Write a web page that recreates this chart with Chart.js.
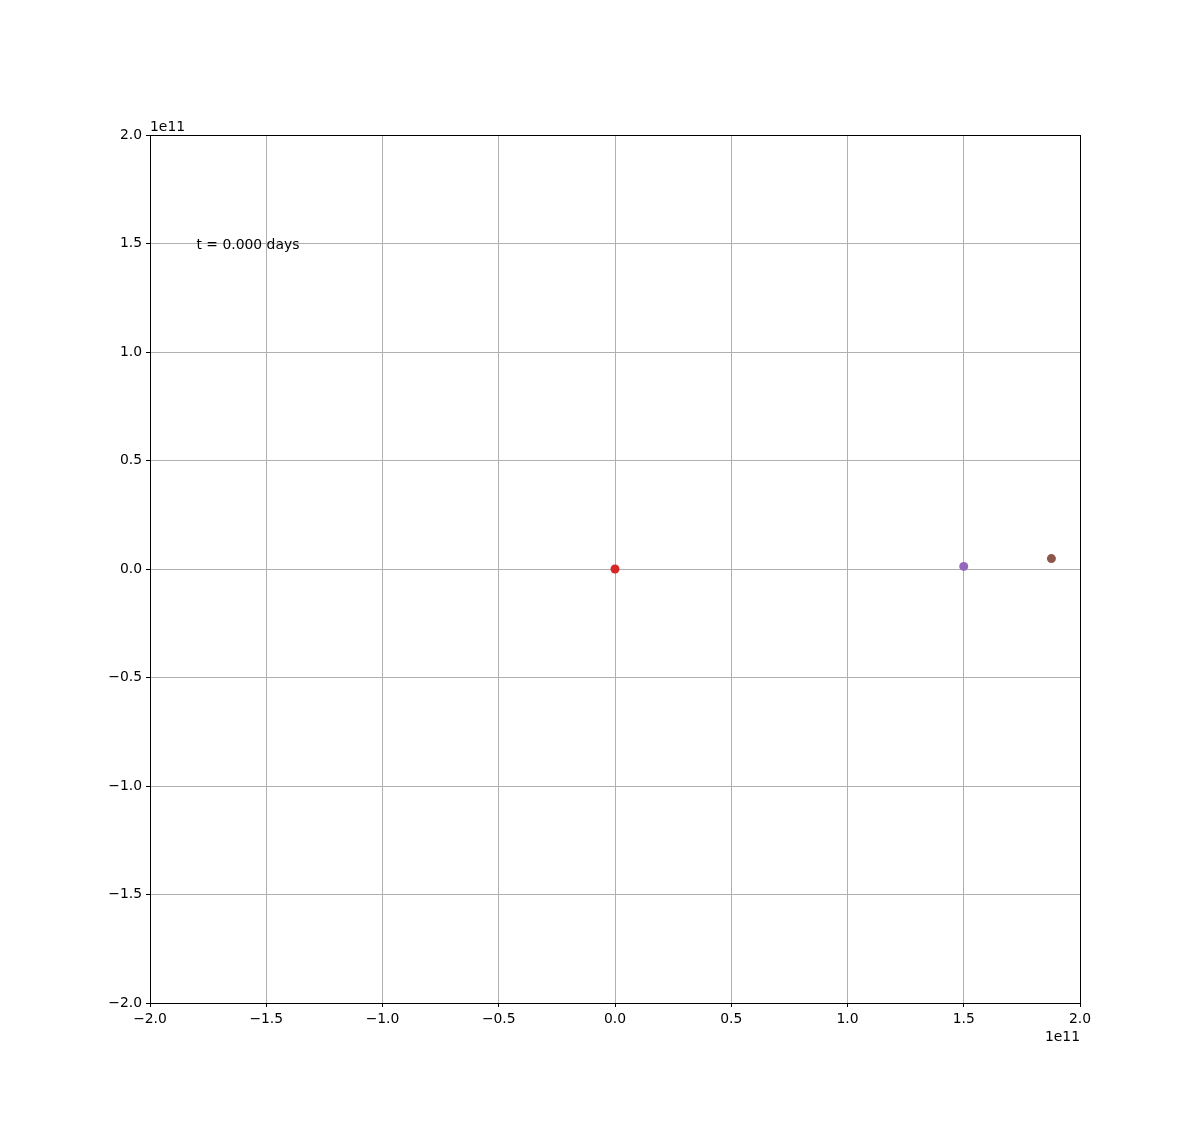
<!DOCTYPE html>
<html>
<head>
<meta charset="utf-8">
<script src="https://cdn.jsdelivr.net/npm/chart.js@4"></script>
<style>
  html, body { margin: 0; padding: 0; background: #fff; }
  #wrap { width: 1200px; height: 1126px; }
</style>
</head>
<body>
<div id="wrap"><canvas id="orbitChart" width="1200" height="1126"></canvas></div>
<script>
document.addEventListener("DOMContentLoaded", function () {

    // bodies at t = 0 (metres)
    const bodyNames = ["Sun", "Earth", "Mars"];
    const bodyX = [0, 1.50e11, 1.877e11];
    const bodyY = [0, 0.012e11, 0.048e11];
    const bodyColors = ["#d62728", "#9467bd", "#8c564b"];

    const axisTicks = [-2e11, -1.5e11, -1e11, -0.5e11, 0, 0.5e11, 1e11, 1.5e11, 2e11];
    const timeLabel = "t = 0.000 days";
    const labelPos = [-1.8e11, 1.5e11];

    const font = { family: "'DejaVu Sans'", size: 13.9 };

    function fmtTick(v) {
        const s = (v / 1e11).toFixed(1);
        return s.replace("-", "\u2212");
    }

    const datasets = bodyNames.map((name, i) => ({
        label: name,
        data: [{ x: bodyX[i], y: bodyY[i] }],
        backgroundColor: bodyColors[i],
        borderColor: bodyColors[i],
        pointRadius: 4.5,
        pointHoverRadius: 4.5,
        borderWidth: 0
    }));

    // frame, offset text and time label
    const extras = {
        id: "extras",
        afterDraw(chart) {
            const ctx = chart.ctx;
            const a = chart.chartArea;
            ctx.save();
            ctx.strokeStyle = "#000";
            ctx.lineWidth = 1;
            ctx.strokeRect(Math.round(a.left) + 0.5, Math.round(a.top) + 0.5,
                Math.round(a.right - a.left), Math.round(a.bottom - a.top));
            ctx.fillStyle = "#000";
            ctx.font = font.size + "px " + font.family;
            ctx.textAlign = "left";
            ctx.textBaseline = "bottom";
            ctx.fillText("1e11", a.left, a.top - 1);
            ctx.textAlign = "right";
            ctx.textBaseline = "top";
            ctx.fillText("1e11", a.right, a.bottom + 27);
            ctx.textAlign = "left";
            ctx.textBaseline = "middle";
            const sx = chart.scales.x.getPixelForValue(labelPos[0]);
            const sy = chart.scales.y.getPixelForValue(labelPos[1]);
            ctx.fillText(timeLabel, sx, sy + 2);
            ctx.restore();
        }
    };

    new Chart(document.getElementById("orbitChart"), {
        type: "scatter",
        data: { datasets: datasets },
        options: {
            responsive: false,
            animation: false,
            events: [],
            layout: { padding: { left: 0, top: 135, right: 120, bottom: 0 } },
            plugins: { legend: { display: false }, tooltip: { enabled: false } },
            scales: {
                x: {
                    type: "linear",
                    min: -2e11,
                    max: 2e11,
                    afterBuildTicks: scale => { scale.ticks = axisTicks.map(v => ({ value: v })); },
                    afterFit: scale => { scale.height = 123; },
                    ticks: { callback: fmtTick, color: "#000", font: font, padding: 4, maxRotation: 0 },
                    grid: { color: "#b0b0b0", lineWidth: 1, tickColor: "#000", tickLength: 4 },
                    border: { color: "#000", width: 1 }
                },
                y: {
                    type: "linear",
                    min: -2e11,
                    max: 2e11,
                    afterBuildTicks: scale => { scale.ticks = axisTicks.map(v => ({ value: v })); },
                    afterFit: scale => { scale.width = 150; },
                    ticks: { callback: fmtTick, color: "#000", font: font, padding: 4 },
                    grid: { color: "#b0b0b0", lineWidth: 1, tickColor: "#000", tickLength: 4 },
                    border: { color: "#000", width: 1 }
                }
            }
        },
        plugins: [extras]
    });
});
</script>
</body>
</html>
